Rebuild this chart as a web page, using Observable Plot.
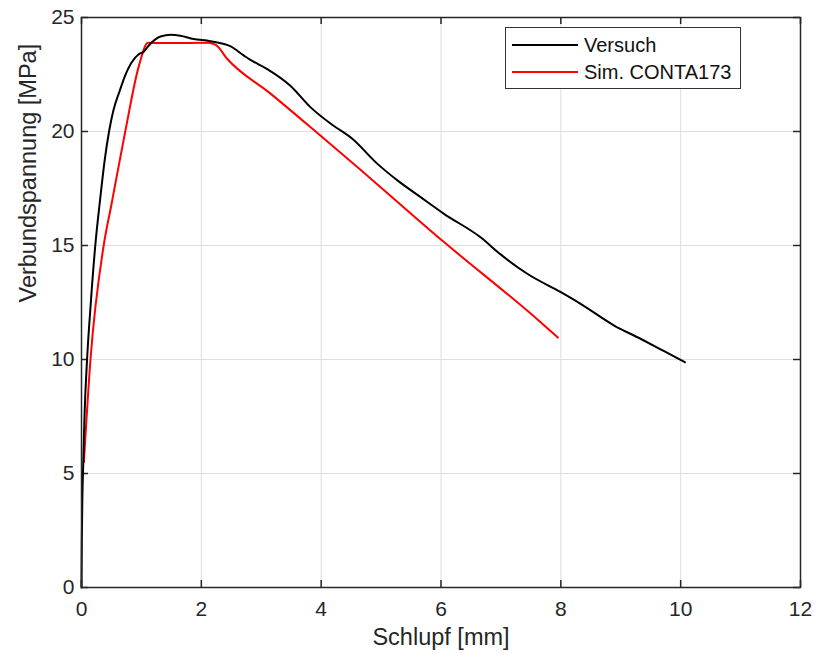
<!DOCTYPE html>
<html>
<head>
<meta charset="utf-8">
<script src="https://cdn.jsdelivr.net/npm/d3@7"></script>
<script src="https://cdn.jsdelivr.net/npm/@observablehq/plot@0.6"></script>
<style>
  body { margin: 0; background: #fff; }
  #wrap { position: relative; width: 817px; height: 655px; font-family: "Liberation Sans", Arial, sans-serif; }
  #legend { position: absolute; left: 505px; top: 27px; width: 234px; height: 60px; border: 1px solid #333; background: #fff; font-size: 20px; color: #111; }
  #legend .row { position: absolute; left: 6px; display: flex; align-items: center; height: 24px; }
  #legend svg { margin-right: 6px; }
</style>
</head>
<body>
<div id="wrap"></div>
<script>
// Versuch (experiment): slip [mm] and bond stress [MPa]
const versuchX = [0, 0.005, 0.015, 0.03, 0.05, 0.095, 0.15, 0.23, 0.31, 0.39, 0.46, 0.53, 0.64, 0.72, 0.83, 0.96, 1.04, 1.1, 1.15, 1.32, 1.49, 1.65, 1.87, 2.15, 2.49, 2.71, 2.82, 3.1, 3.49, 3.82, 4.16, 4.52, 4.94, 5.3, 5.66, 6.05, 6.66, 7.0, 7.44, 8.0, 8.33, 8.89, 9.33, 9.7, 10.07];
const versuchY = [0, 2, 4, 5.5, 7.5, 10.1, 12.3, 15.0, 17.0, 18.8, 20.0, 20.9, 21.8, 22.4, 23.0, 23.4, 23.5, 23.7, 23.85, 24.17, 24.24, 24.2, 24.06, 23.96, 23.73, 23.33, 23.14, 22.74, 22.0, 21.07, 20.34, 19.68, 18.58, 17.8, 17.12, 16.39, 15.36, 14.6, 13.76, 12.95, 12.44, 11.49, 10.91, 10.4, 9.88];
// Sim. CONTA173
const simX = [0.04, 0.15, 0.37, 0.5, 0.73, 0.96, 1.11, 1.43, 2.1, 2.24, 2.43, 3.16, 4.05, 4.49, 6.05, 7.63, 7.95];
const simY = [5.5, 10.0, 15.0, 16.8, 20.0, 22.9, 23.89, 23.88, 23.89, 23.8, 23.19, 21.65, 19.68, 18.7, 15.15, 11.71, 10.96];

const xTicks = [0, 2, 4, 6, 8, 10, 12];
const yTicks = [0, 5, 10, 15, 20, 25];
const seriesNames = ["Versuch", "Sim. CONTA173"];
const seriesColors = ["#000000", "#ff0000"];
const xLabel = "Schlupf [mm]";
const yLabel = "Verbundspannung [MPa]";

const versuch = versuchX.map((x, i) => ({x, y: versuchY[i]}));
const sim = simX.map((x, i) => ({x, y: simY[i]}));

const W = 817, H = 655, mL = 81, mR = 17, mT = 17, mB = 68;
const plotH = H - mT - mB, plotW = W - mL - mR;
const tk = 7;
const axisColor = "#262626";

const chart = Plot.plot({
  width: W, height: H,
  marginLeft: mL, marginRight: mR, marginTop: mT, marginBottom: mB,
  style: {fontFamily: "Liberation Sans, Arial, sans-serif", fontSize: "21px", color: axisColor, background: "#fff"},
  x: {domain: [0, 12]},
  y: {domain: [0, 25]},
  marks: [
    Plot.gridX(xTicks, {stroke: "#dedede", strokeOpacity: 1}),
    Plot.gridY(yTicks, {stroke: "#dedede", strokeOpacity: 1}),
    Plot.axisX(xTicks, {tickSize: 0, tickPadding: 14, fontSize: 21, label: null, tickFormat: d => d, fill: axisColor}),
    Plot.axisY(yTicks, {tickSize: 0, tickPadding: 7, fontSize: 21, label: null, tickFormat: d => d, fill: axisColor}),
    Plot.tickX(xTicks, {x: d => d, insetTop: plotH - tk, stroke: axisColor, strokeWidth: 1.5}),
    Plot.tickX(xTicks, {x: d => d, insetBottom: plotH - tk, stroke: axisColor, strokeWidth: 1.5}),
    Plot.tickY(yTicks, {y: d => d, insetRight: plotW - tk, stroke: axisColor, strokeWidth: 1.5}),
    Plot.tickY(yTicks, {y: d => d, insetLeft: plotW - tk, stroke: axisColor, strokeWidth: 1.5}),
    Plot.line(sim, {x: "x", y: "y", stroke: seriesColors[1], strokeWidth: 2, curve: "monotone-x"}),
    Plot.line(versuch, {x: "x", y: "y", stroke: seriesColors[0], strokeWidth: 2, curve: "monotone-x"}),
    Plot.frame({stroke: axisColor, strokeWidth: 1.5}),
    Plot.text([xLabel], {frameAnchor: "bottom", dy: 57, fontSize: 23.5, fill: axisColor}),
    Plot.text([yLabel], {frameAnchor: "left", dx: -53, rotate: -90, fontSize: 23.5, fill: axisColor})
  ]
});

const wrap = document.getElementById("wrap");
wrap.appendChild(chart);

const legend = document.createElement("div");
legend.id = "legend";
seriesNames.forEach((name, i) => {
  const row = document.createElement("div");
  row.className = "row";
  row.style.top = (i === 0 ? 5 : 32) + "px";
  row.innerHTML = `<svg width="66" height="20"><line x1="0" x2="66" y1="10" y2="10" stroke="${seriesColors[i]}" stroke-width="2"/></svg><span>${name}</span>`;
  legend.appendChild(row);
});
wrap.appendChild(legend);
</script>
</body>
</html>
